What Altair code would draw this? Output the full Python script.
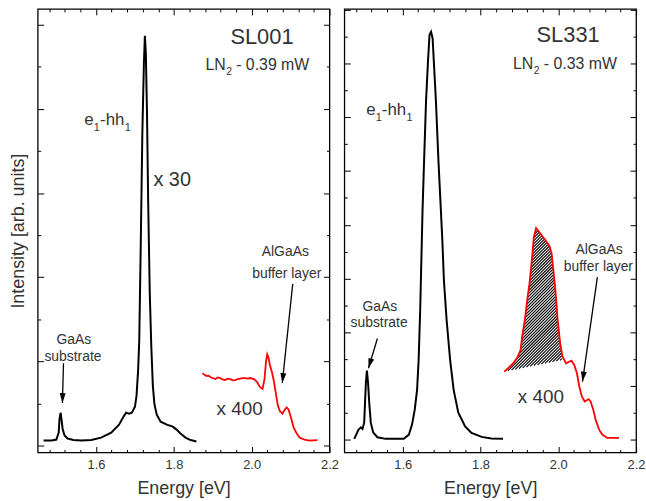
import math
import altair as alt
import pandas as pd
import numpy as np

FONT = "Liberation Sans, Arial, sans-serif"
TXT = "#333333"

E_DOMAIN = [1.45, 2.2]
W, H = 294, 447
PX_PER_EV = W / (E_DOMAIN[1] - E_DOMAIN[0])
X_MAJOR = [1.6, 1.8, 2.0, 2.2]
X_MINOR = [1.48, 1.52, 1.56, 1.64, 1.68, 1.72, 1.76, 1.84, 1.88, 1.92, 1.96,
           2.04, 2.08, 2.12, 2.16]

# ---------------- SL001 (left panel) ----------------
sl001_y_domain = [-0.0825, 5.19]
sl001_y_major = [0, 1, 2, 3, 4, 5]
sl001_y_minor = [0.5, 1.5, 2.5, 3.5, 4.5]

# e1-hh1 spectrum (x 30)
sl001_pl_e = [1.465, 1.486, 1.498, 1.504, 1.506, 1.509, 1.511, 1.514, 1.519, 1.527,
              1.542, 1.562, 1.588, 1.613, 1.639, 1.659, 1.669, 1.677, 1.685, 1.692,
              1.700, 1.704, 1.708, 1.711, 1.715, 1.719, 1.723, 1.7255, 1.728, 1.731,
              1.734, 1.738, 1.742, 1.746, 1.750, 1.756, 1.766, 1.782, 1.797, 1.807,
              1.817, 1.830, 1.843, 1.858]
sl001_pl_i = [0.059, 0.059, 0.071, 0.153, 0.318, 0.389, 0.318, 0.200, 0.118, 0.083,
              0.065, 0.059, 0.065, 0.094, 0.153, 0.248, 0.330, 0.389, 0.377, 0.389,
              0.460, 0.590, 0.884, 1.238, 2.417, 3.715, 4.540, 4.870, 4.658, 3.950,
              2.889, 1.828, 1.179, 0.708, 0.495, 0.366, 0.283, 0.248, 0.224, 0.189,
              0.142, 0.094, 0.065, 0.047]
# AlGaAs buffer spectrum (x 400)
sl001_buf_e = [1.8735, 1.879, 1.884, 1.889, 1.894, 1.900, 1.907, 1.913, 1.919, 1.925,
               1.932, 1.938, 1.945, 1.951, 1.958, 1.964, 1.970, 1.977, 1.983, 1.990,
               1.996, 2.006, 2.014, 2.021, 2.028, 2.033, 2.037, 2.040, 2.043, 2.047,
               2.052, 2.057, 2.062, 2.067, 2.072, 2.079, 2.085, 2.090, 2.095, 2.102,
               2.108, 2.116, 2.123, 2.136, 2.149, 2.169]
sl001_buf_i = [0.861, 0.840, 0.825, 0.830, 0.814, 0.800, 0.790, 0.810, 0.802, 0.785,
               0.778, 0.795, 0.790, 0.775, 0.778, 0.790, 0.796, 0.800, 0.802, 0.795,
               0.802, 0.790, 0.755, 0.696, 0.672, 0.790, 1.002, 1.085, 1.050, 0.955,
               0.873, 0.767, 0.625, 0.483, 0.413, 0.377, 0.425, 0.454, 0.425, 0.318,
               0.212, 0.142, 0.094, 0.071, 0.059, 0.065]

# centred labels
sl001_text = ["SL001", "x 30", "GaAs", "substrate", "AlGaAs", "buffer layer", "x 400"]
sl001_text_e = [2.0265, 1.7957, 1.5431, 1.5406, 2.0865, 2.0903, 1.9691]
sl001_text_i = [4.858, 3.160, 1.250, 1.050, 2.300, 2.044, 0.436]
sl001_text_size = [22, 20, 14, 14, 14, 14, 19]
# labels with subscripts: pieces laid out from a left anchor
sl001_ln_anchor = [1.8811, 4.517]
sl001_ln_text = ["LN", "2", "- 0.39 mW"]
sl001_eh_anchor = [1.5699, 3.870]
sl001_eh_text = ["e", "1", "-hh", "1"]

sl001_arrow_e0 = [1.5163, 2.1056]
sl001_arrow_i0 = [0.979, 1.922]
sl001_arrow_e1 = [1.5135, 2.0788]
sl001_arrow_i1 = [0.505, 0.743]

# ---------------- SL331 (right panel) ----------------
sl331_y_domain = [-0.24, 8.02]
sl331_y_major = [0, 1, 2, 3, 4, 5, 6, 7, 8]
sl331_y_minor = [0.5, 1.5, 2.5, 3.5, 4.5, 5.5, 6.5, 7.5]

sl331_pl_e = [1.4755, 1.4865, 1.4926, 1.4967, 1.501, 1.5054, 1.508, 1.511, 1.514, 1.518,
              1.524, 1.535, 1.556, 1.603, 1.616, 1.624, 1.631, 1.637, 1.641, 1.645,
              1.648, 1.651, 1.655, 1.660, 1.665, 1.669, 1.673, 1.677, 1.681, 1.6855,
              1.692, 1.697, 1.702, 1.706, 1.713, 1.722, 1.731, 1.743, 1.7605, 1.777,
              1.803, 1.828, 1.858]
sl331_pl_i = [0.013, 0.185, 0.228, 0.198, 0.315, 1.056, 1.283, 1.056, 0.685, 0.315,
              0.135, 0.043, 0.013, 0.013, 0.093, 0.278, 0.556, 0.926, 1.481, 2.407,
              3.333, 4.259, 5.185, 6.296, 7.037, 7.537, 7.593, 7.469, 6.913, 6.296,
              5.185, 4.444, 3.704, 2.963, 2.222, 1.481, 0.926, 0.500, 0.246, 0.124,
              0.050, 0.019, 0.013]
sl331_buf_e = [1.861, 1.871, 1.884, 1.896, 1.903, 1.907, 1.914, 1.920, 1.926, 1.932,
               1.937, 1.943, 1.952, 1.9645, 1.977, 1.983, 1.9875, 1.992, 1.9985, 2.005,
               2.011, 2.020, 2.028, 2.034, 2.041, 2.048, 2.054, 2.0605, 2.068, 2.078,
               2.083, 2.090, 2.096, 2.105, 2.113, 2.126, 2.156]
sl331_buf_i = [1.265, 1.328, 1.420, 1.543, 1.667, 1.913, 2.222, 2.593, 2.907, 3.333,
               3.765, 3.939, 3.857, 3.735, 3.611, 3.463, 3.148, 2.839, 2.222, 1.791,
               1.543, 1.420, 1.450, 1.469, 1.389, 1.235, 0.987, 0.802, 0.709, 0.754,
               0.709, 0.556, 0.370, 0.185, 0.093, 0.031, 0.031]
# hatched band: from the curve down to a straight line between these two points
sl331_hatch_e = [1.861, 2.009]
sl331_hatch_base = [1.265, 1.48]

sl331_text = ["SL331", "GaAs", "substrate", "AlGaAs", "buffer layer", "x 400"]
sl331_text_e = [2.0253, 1.5413, 1.5393, 2.1048, 2.1031, 1.9551]
sl331_text_i = [7.537, 2.463, 2.167, 3.537, 3.204, 0.796]
sl331_text_size = [22, 14, 14, 14, 14, 19]
sl331_ln_anchor = [1.8837, 7.000]
sl331_ln_text = ["LN", "2", "- 0.33 mW"]
sl331_eh_anchor = [1.5061, 6.139]
sl331_eh_text = ["e", "1", "-hh", "1"]

sl331_arrow_e0 = [1.535, 2.1005]
sl331_arrow_i0 = [1.883, 3.024]
sl331_arrow_e1 = [1.512, 2.0622]
sl331_arrow_i1 = [1.328, 1.080]

# piece layout (pixel offsets from the anchor) and font sizes -- styling only
LN_DX = [0, 20.9, 31.0]
LN_DY = [0, 7, 0]
LN_SIZE = [16, 10.5, 16]
EH_DX = [0, 9.6, 15.8, 40.6]
EH_DY = [0, 8, 0, 8]
EH_SIZE = [17, 11, 17, 11]

ARROW_HEAD = "M0,0L-0.3,-1L0.3,-1Z"
HATCH_PERIOD_PX = 3.0


def px_per_unit(ydom):
    return H / (ydom[1] - ydom[0])


def arrow_frame(e0, i0, e1, i1, ydom):
    ppi = px_per_unit(ydom)
    rows = []
    for a, b, c, d in zip(e0, i0, e1, i1):
        dx = (c - a) * PX_PER_EV
        dy = -(d - b) * ppi
        ang = math.degrees(math.atan2(-dx, dy)) % 360
        rows.append({"e0": a, "i0": b, "e1": c, "i1": d, "ang": ang})
    return pd.DataFrame(rows)


def pieces(anchor, texts, dxs, dys, sizes, ydom):
    ppi = px_per_unit(ydom)
    return [{"t": t, "e": anchor[0] + dx / PX_PER_EV, "i": anchor[1] - dy / ppi, "s": s}
            for t, dx, dy, s in zip(texts, dxs, dys, sizes)]


def hatch_segments(buf_e, buf_i, he, hb, ydom, period=HATCH_PERIOD_PX):
    """Clip 45-degree hatch lines to the band between the curve and the straight base."""
    ppi = px_per_unit(ydom)
    es = np.arange(he[0], he[1], 0.02 / PX_PER_EV)
    top_v = np.interp(es, buf_e, buf_i)
    base_v = hb[0] + (es - he[0]) / (he[1] - he[0]) * (hb[1] - hb[0])
    X = (es - E_DOMAIN[0]) * PX_PER_EV
    Yt = (ydom[1] - top_v) * ppi
    Yb = (ydom[1] - base_v) * ppi
    cmin, cmax = float((X + Yt).min()), float((X + Yb).max())
    rows = []
    c = cmin + period / 2
    while c < cmax:
        Y = c - X
        inside = ((Y >= Yt) & (Y <= Yb)).astype(int)
        edges = np.flatnonzero(np.diff(np.concatenate([[0], inside, [0]])))
        for s, t in zip(edges[::2], edges[1::2]):
            x0, x1 = X[s], X[t - 1]
            if x1 - x0 < 0.3:
                continue
            rows.append({
                "e0": E_DOMAIN[0] + x0 / PX_PER_EV, "i0": ydom[1] - (c - x0) / ppi,
                "e1": E_DOMAIN[0] + x1 / PX_PER_EV, "i1": ydom[1] - (c - x1) / ppi,
            })
        c += period
    return pd.DataFrame(rows)


def panel(pl_e, pl_i, buf_e, buf_i, ydom, ymaj, ymin_, txt, txt_e, txt_i, txt_s,
          sub_rows, arr, ytitle, hatch=None):
    xs = alt.Scale(domain=E_DOMAIN, nice=False, zero=False)
    ys = alt.Scale(domain=ydom, nice=False, zero=False)
    pl = pd.DataFrame({"e": pl_e, "i": pl_i})
    buf = pd.DataFrame({"e": buf_e, "i": buf_i})
    tx = pd.DataFrame({"t": txt, "e": txt_e, "i": txt_i, "s": txt_s})
    sub = pd.DataFrame(sub_rows)
    layers = []
    if hatch is not None:
        he, hb = hatch
        segs = hatch_segments(buf_e, buf_i, he, hb, ydom)
        layers.append(
            alt.Chart(segs).mark_rule(color="#000000", strokeWidth=1.15).encode(
                x=alt.X("e0:Q", scale=xs, axis=None),
                y=alt.Y("i0:Q", scale=ys, axis=None),
                x2="e1:Q",
                y2="i1:Q",
            )
        )
    if ytitle:
        left_axis = alt.Axis(orient="left", values=ymaj, tickSize=6, offset=-6, labels=False,
                             title=ytitle, titlePadding=10)
    else:
        left_axis = alt.Axis(orient="left", values=ymaj, tickSize=6, offset=-6, labels=False,
                             title=None)
    layers.append(
        alt.Chart(pl).mark_line(color="black", strokeWidth=2).encode(
            x=alt.X("e:Q", scale=xs,
                    axis=alt.Axis(orient="bottom", values=X_MAJOR, format=".1f", tickSize=6,
                                  offset=-6, labelPadding=6, labelFlush=False,
                                  title="Energy [eV]", titlePadding=8)),
            y=alt.Y("i:Q", scale=ys, axis=left_axis),
        )
    )
    layers.append(
        alt.Chart(buf).mark_line(color="#ff0000", strokeWidth=1.8).encode(
            x=alt.X("e:Q", scale=xs,
                    axis=alt.Axis(orient="top", values=X_MAJOR, tickSize=6, offset=-6,
                                  labels=False, title=None)),
            y=alt.Y("i:Q", scale=ys,
                    axis=alt.Axis(orient="right", values=ymaj, tickSize=6, offset=-6,
                                  labels=False, title=None)),
        )
    )
    layers.append(
        alt.Chart(arr).mark_rule(color="black", strokeWidth=1.3).encode(
            x=alt.X("e0:Q", scale=xs,
                    axis=alt.Axis(orient="bottom", values=X_MINOR, tickSize=3, offset=-3,
                                  labels=False, title=None)),
            y=alt.Y("i0:Q", scale=ys,
                    axis=alt.Axis(orient="left", values=ymin_, tickSize=3, offset=-3,
                                  labels=False, title=None)),
            x2="e1:Q",
            y2="i1:Q",
        )
    )
    layers.append(
        alt.Chart(arr).mark_point(shape=ARROW_HEAD, filled=True, color="black", size=400,
                                  opacity=1, strokeWidth=0).encode(
            x=alt.X("e1:Q", scale=xs,
                    axis=alt.Axis(orient="top", values=X_MINOR, tickSize=3, offset=-3,
                                  labels=False, title=None)),
            y=alt.Y("i1:Q", scale=ys,
                    axis=alt.Axis(orient="right", values=ymin_, tickSize=3, offset=-3,
                                  labels=False, title=None)),
            angle=alt.Angle("ang:Q", scale=None),
        )
    )
    layers.append(
        alt.Chart(tx).mark_text(font=FONT, color=TXT, align="center", baseline="middle").encode(
            x=alt.X("e:Q", scale=xs, axis=None),
            y=alt.Y("i:Q", scale=ys, axis=None),
            text="t:N",
            size=alt.Size("s:Q", scale=None),
        )
    )
    layers.append(
        alt.Chart(sub).mark_text(font=FONT, color=TXT, align="left", baseline="middle").encode(
            x=alt.X("e:Q", scale=xs, axis=None),
            y=alt.Y("i:Q", scale=ys, axis=None),
            text="t:N",
            size=alt.Size("s:Q", scale=None),
        )
    )
    return alt.layer(*layers).resolve_axis(x="independent", y="independent").properties(
        width=W, height=H)


left_sub = (pieces(sl001_ln_anchor, sl001_ln_text, LN_DX, LN_DY, LN_SIZE, sl001_y_domain)
            + pieces(sl001_eh_anchor, sl001_eh_text, EH_DX, EH_DY, EH_SIZE, sl001_y_domain))
right_sub = (pieces(sl331_ln_anchor, sl331_ln_text, LN_DX, LN_DY, LN_SIZE, sl331_y_domain)
             + pieces(sl331_eh_anchor, sl331_eh_text, EH_DX, EH_DY, EH_SIZE, sl331_y_domain))

left = panel(sl001_pl_e, sl001_pl_i, sl001_buf_e, sl001_buf_i, sl001_y_domain,
             sl001_y_major, sl001_y_minor, sl001_text, sl001_text_e, sl001_text_i,
             sl001_text_size, left_sub,
             arrow_frame(sl001_arrow_e0, sl001_arrow_i0, sl001_arrow_e1, sl001_arrow_i1,
                         sl001_y_domain),
             "Intensity [arb. units]")
right = panel(sl331_pl_e, sl331_pl_i, sl331_buf_e, sl331_buf_i, sl331_y_domain,
              sl331_y_major, sl331_y_minor, sl331_text, sl331_text_e, sl331_text_i,
              sl331_text_size, right_sub,
              arrow_frame(sl331_arrow_e0, sl331_arrow_i0, sl331_arrow_e1, sl331_arrow_i1,
                          sl331_y_domain),
              None, hatch=(sl331_hatch_e, sl331_hatch_base))

chart = alt.hconcat(left, right, spacing=15, bounds="flush").properties(
    padding={"left": 8, "top": 5, "right": 0, "bottom": 5},
    background="white",
).configure_view(stroke="black", strokeWidth=1.3).configure_axis(
    labelFont=FONT, titleFont=FONT, labelColor=TXT, titleColor=TXT,
    labelFontSize=13, titleFontSize=18, titleFontWeight="normal",
    tickColor="black", tickWidth=1, grid=False, domain=False,
)

chart.save("out.html", embed_options={"renderer": "svg", "actions": False})
